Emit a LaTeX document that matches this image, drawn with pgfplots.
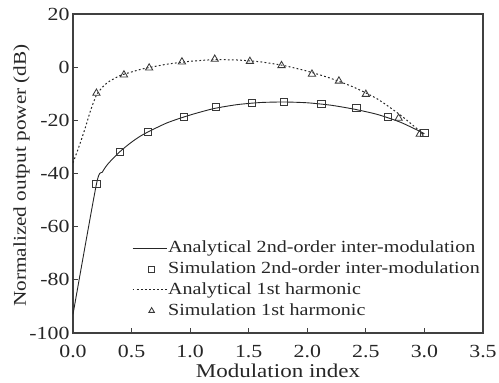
\documentclass[border=0pt]{standalone}
\usepackage{fontspec}
\setmainfont{Liberation Serif}[FakeStretch=1.18]
\usepackage{pgfplots}
\pgfplotsset{compat=1.18}
\definecolor{ax}{gray}{0.25}
\definecolor{ln}{gray}{0.15}
\definecolor{mk}{gray}{0.22}
\pgfplotsset{
  lineleg/.style={legend image code/.code={\draw[##1] (0bp,0bp) -- (34bp,0bp);}},
  markleg/.style={legend image code/.code={\draw[##1, mark size=#1] plot coordinates {(19bp,0bp)};}},
}
\begin{document}
\begin{tikzpicture}
\begin{axis}[
  scale only axis, width=410bp, height=319bp,
  xmin=0, xmax=3.5, ymin=-100, ymax=20,
  xtick={0,0.5,...,3.5}, ytick={-100,-80,...,20},
  tick align=inside, xtick pos=bottom, ytick pos=left,
  major tick length=5bp,
  axis line style={ax, line width=1.1pt},
  every tick/.style={ax, line width=0.9pt},
  /pgf/number format/assume math mode=true,
  xticklabel style={/pgf/number format/.cd, fixed, fixed zerofill, precision=1, /tikz/.cd, anchor=base, yshift=-24bp},
  yticklabel style={/pgf/number format/.cd, fixed},
  tick label style={font=\fontsize{18.5bp}{21bp}\selectfont, text=black!85},
  label style={font=\fontsize{19.5bp}{22bp}\selectfont, text=black!85},
  xlabel={Modulation index},
  ylabel={Normalized output power (dB)},
  xlabel style={at={([yshift=-44bp]axis description cs:0.5,0)}, anchor=base},
  ylabel style={at={([xshift=-47bp,yshift=-2bp]axis description cs:0,0.5)}, anchor=base, font=\fontsize{18bp}{21bp}\selectfont},
  legend style={draw=none, fill=none, at={(axis description cs:0.995,0.04)}, anchor=south east,
    font=\fontsize{17bp}{19bp}\selectfont, text=black!85, inner sep=0pt,
    row sep=2.3bp, nodes={inner sep=1bp, text height=12.5bp, text depth=4bp}},
  legend cell align=left,
]
\addplot[ln, line width=0.9pt, smooth, tension=0.4, lineleg]
  coordinates {(0,-93) (0.2,-44) (0.25,-39.5) (0.3,-36.3) (0.4,-31.8) (0.5,-28.2) (0.6,-25.3) (0.8,-21) (1.0,-18) (1.2,-15.6) (1.4,-14.1) (1.6,-13.3) (1.8,-13.1) (2.0,-13.4) (2.2,-14.3) (2.4,-15.8) (2.6,-17.8) (2.8,-20.8) (3.0,-25)};
\addlegendentry{Analytical 2nd-order inter-modulation}
\addplot[only marks, mark=square, mark size=3.6bp, mk, mark options={line width=0.85pt}, markleg=2.8bp]
  coordinates {(0.2,-43.9) (0.4,-31.9) (0.64,-24.4) (0.95,-18.7) (1.22,-15.0) (1.53,-13.5) (1.8,-13.1) (2.12,-13.8) (2.42,-15.4) (2.69,-18.7) (3.0,-24.7)};
\addlegendentry{Simulation 2nd-order inter-modulation}
\addplot[ln, line width=1pt, dash pattern=on 1.8pt off 2.3pt, smooth, tension=0.4, lineleg]
  coordinates {(0,-36) (0.05,-30) (0.1,-23.5) (0.15,-16.3) (0.2,-10.5) (0.25,-7.6) (0.3,-5.6) (0.4,-3.2) (0.5,-1.8) (0.6,-0.6) (0.8,1.1) (1.0,2.2) (1.2,2.8) (1.4,2.7) (1.6,2.0) (1.8,0.6) (2.0,-1.5) (2.2,-4.2) (2.4,-7.6) (2.6,-12) (2.8,-18.2) (3.0,-25.5)};
\addlegendentry{Analytical 1st harmonic}
\addplot[only marks, mark=triangle, mark size=4.2bp, mk, mark options={line width=0.85pt}, markleg=3.2bp]
  coordinates {(0.2,-9.8) (0.435,-2.9) (0.65,-0.3) (0.93,2.0) (1.21,3.0) (1.51,2.2) (1.78,0.6) (2.04,-2.6) (2.27,-5.2) (2.5,-10.2) (2.78,-19.2) (2.96,-25.2)};
\addlegendentry{Simulation 1st harmonic}
\end{axis}
\pgfresetboundingbox
\path[use as bounding box] ([xshift=-73bp,yshift=-50bp]current axis.south west) rectangle ([xshift=16bp,yshift=14bp]current axis.north east);
\end{tikzpicture}
\end{document}
